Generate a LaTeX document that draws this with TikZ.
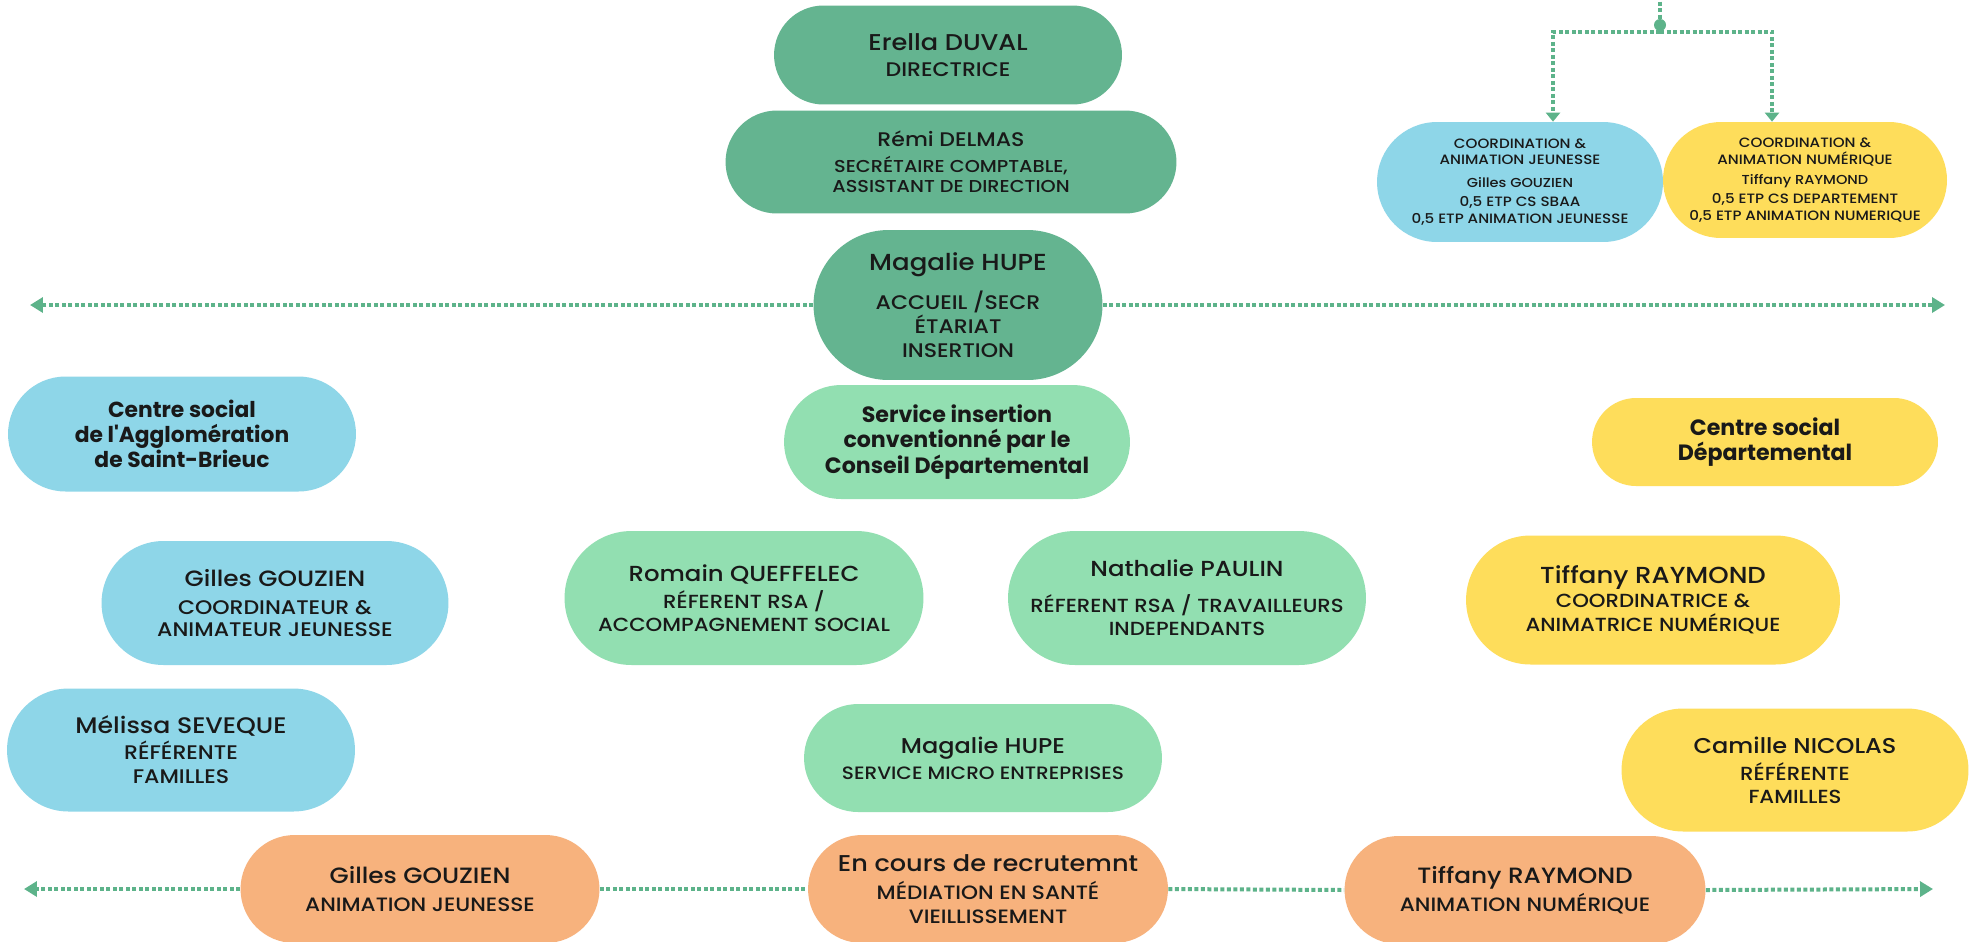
\documentclass[tikz,border=0pt]{standalone}
\usepackage{fontspec}
\setmainfont{Poppins}[UprightFont={* Medium}, UprightFeatures={FakeStretch=1.12}, BoldFont={* Bold}]
\usetikzlibrary{shapes.misc, arrows.meta}
\definecolor{dirgreen}{HTML}{64B490}
\definecolor{insgreen}{HTML}{92DFB1}
\definecolor{aggblue}{HTML}{8ED6E8}
\definecolor{depyellow}{HTML}{FEDD5B}
\definecolor{trorange}{HTML}{F7B27D}
\definecolor{linegreen}{HTML}{5DB38A}
\newcommand{\pname}[2]{{\fontsize{#1}{#1}\selectfont #2}}
\tikzstyle{box} = [rounded rectangle, inner sep=0pt, align=center, text=black!90]
\tikzstyle{direction} = [box, fill=dirgreen]
\tikzstyle{insertion} = [box, fill=insgreen]
\tikzstyle{agglo} = [box, fill=aggblue]
\tikzstyle{depart} = [box, fill=depyellow]
\tikzstyle{transv} = [box, fill=trorange]
\tikzstyle{dotline} = [draw=linegreen, line width=0.08cm, dash pattern=on 0.08cm off 0.05cm]
\tikzstyle{arrow} = [dotline, -{Triangle[length=0.26cm, width=0.3cm]}]
\tikzstyle{arrowdown} = [dotline, -{Triangle[length=0.18cm, width=0.28cm]}]

\begin{document}
\begin{tikzpicture}[x=0.02cm, y=-0.02cm]
    \path[fill=white, use as bounding box] (0,0) rectangle (1970,941);

    % direction
    \node[direction, minimum width=6.96cm, minimum height=1.98cm, font=\fontsize{11.2}{14.8}\selectfont] (duval) at (948,55) {\pname{13}{Erella DUVAL}\\DIRECTRICE};
    \node[direction, minimum width=9.02cm, minimum height=2.06cm, font=\fontsize{9.8}{11.4}\selectfont] (delmas) at (951,162) {\pname{11.2}{Rémi DELMAS}\\[3.4pt]SECRÉTAIRE COMPTABLE,\\ASSISTANT DE DIRECTION};
    \node[direction, minimum width=5.78cm, minimum height=3cm, font=\fontsize{11.2}{13.7}\selectfont] (hupe) at (958,305) {\pname{13.2}{Magalie HUPE}\\[6.8pt]ACCUEIL /SECR\\ÉTARIAT\\INSERTION};

    % coordinations
    \node[agglo, minimum width=5.72cm, minimum height=2.4cm, font=\fontsize{7.7}{9.5}\selectfont] (jeun) at (1520,182) {COORDINATION \&\\ANIMATION JEUNESSE\\[3.5pt]\pname{7.4}{Gilles GOUZIEN}\\[1.5pt]0,5 ETP CS SBAA\\0,5 ETP ANIMATION JEUNESSE};
    \node[depart, minimum width=5.68cm, minimum height=2.32cm, font=\fontsize{7.7}{9.5}\selectfont] (numq) at (1805,180) {COORDINATION \&\\ANIMATION NUMÉRIQUE\\[2pt]\pname{7.4}{Tiffany RAYMOND}\\[1.5pt]0,5 ETP CS DEPARTEMENT\\0,5 ETP ANIMATION NUMERIQUE};

    % centre social agglomeration
    \node[agglo, minimum width=6.96cm, minimum height=2.3cm, font=\fontsize{12.4}{14.2}\selectfont\bfseries] (csagglo) at (182,434) {Centre social\\de l\textquotesingle Agglomération\\de Saint-Brieuc};
    \node[agglo, minimum width=6.94cm, minimum height=2.48cm, font=\fontsize{11.2}{12.5}\selectfont] (gouzc) at (275,603) {\pname{12.6}{Gilles GOUZIEN}\\[3.5pt]COORDINATEUR \&\\ANIMATEUR JEUNESSE};
    \node[agglo, minimum width=6.96cm, minimum height=2.46cm, font=\fontsize{11.2}{13.7}\selectfont] (seveq) at (181,750) {\pname{12.8}{Mélissa SEVEQUE}\\[1.1pt]RÉFÉRENTE\\FAMILLES};

    % service insertion
    \node[insertion, minimum width=6.92cm, minimum height=2.28cm, font=\fontsize{12.6}{14.5}\selectfont\bfseries] (insert) at (957,442) {Service insertion\\conventionné par le\\Conseil Départemental};
    \node[insertion, minimum width=7.18cm, minimum height=2.68cm, font=\fontsize{10.8}{13}\selectfont] (queff) at (744,598) {\pname{12.4}{Romain QUEFFELEC}\\[2.4pt]RÉFERENT RSA /\\ACCOMPAGNEMENT SOCIAL};
    \node[insertion, minimum width=7.16cm, minimum height=2.68cm, font=\fontsize{10.8}{13}\selectfont] (paulin) at (1187,598) {\pname{12.4}{Nathalie PAULIN}\\[7.5pt]RÉFERENT RSA / TRAVAILLEURS\\INDEPENDANTS};
    \node[insertion, minimum width=7.16cm, minimum height=2.16cm, font=\fontsize{10.2}{12}\selectfont] (hupem) at (983,758) {\pname{12.2}{Magalie HUPE}\\[2.8pt]SERVICE MICRO ENTREPRISES};

    % centre social departemental
    \node[depart, minimum width=6.92cm, minimum height=1.76cm, font=\fontsize{12.6}{14.2}\selectfont\bfseries] (csdep) at (1765,442) {Centre social\\Départemental};
    \node[depart, minimum width=7.48cm, minimum height=2.58cm, font=\fontsize{10.8}{13.7}\selectfont] (raymc) at (1653,600) {\pname{13.2}{Tiffany RAYMOND}\\COORDINATRICE \&\\ANIMATRICE NUMÉRIQUE};
    \node[depart, minimum width=6.94cm, minimum height=2.46cm, font=\fontsize{10.8}{13}\selectfont] (nicol) at (1795,770) {\pname{12.2}{Camille NICOLAS}\\[2.4pt]RÉFÉRENTE\\FAMILLES};

    % transversal
    \node[transv, minimum width=7.18cm, minimum height=2.16cm, font=\fontsize{11}{16}\selectfont] (gouza) at (420,889) {\pname{12.6}{Gilles GOUZIEN}\\ANIMATION JEUNESSE};
    \node[transv, minimum width=7.2cm, minimum height=2.16cm, font=\fontsize{11}{13.7}\selectfont] (recru) at (988,889) {\pname{13}{En cours de recrutemnt}\\[2.3pt]MÉDIATION EN SANTÉ\\VIEILLISSEMENT};
    \node[transv, minimum width=7.22cm, minimum height=2.16cm, font=\fontsize{11}{16}\selectfont] (rayma) at (1525,890) {\pname{12.6}{Tiffany RAYMOND}\\ANIMATION NUMÉRIQUE};

    % connectors
    \coordinate (lefttop) at (30,305);
    \coordinate (righttop) at (1945,305);
    \coordinate (leftbot) at (24,889);
    \coordinate (rightbot) at (1933,889);
    \coordinate (src) at (1660,-5);
    \coordinate (fork) at (1660,32);
    \node[circle, fill=linegreen, inner sep=0pt, minimum size=0.24cm] (dot) at (1660,25) {};

    \draw[arrow] (hupe.west) -- (lefttop);
    \draw[arrow] (hupe.east) -- (righttop);
    \draw[arrow] (gouza.west) -- (leftbot);
    \draw[dotline] (gouza.east) -- (recru.west);
    \draw[dotline] (recru.east) -- (rayma.west);
    \draw[arrow] (rayma.east) -- (rightbot);
    \draw[dotline] (src) -- (dot);
    \draw[arrowdown] (fork) -| ([xshift=0.66cm]jeun.north);
    \draw[arrowdown] (fork) -| ([xshift=-0.66cm]numq.north);
\end{tikzpicture}
\end{document}
